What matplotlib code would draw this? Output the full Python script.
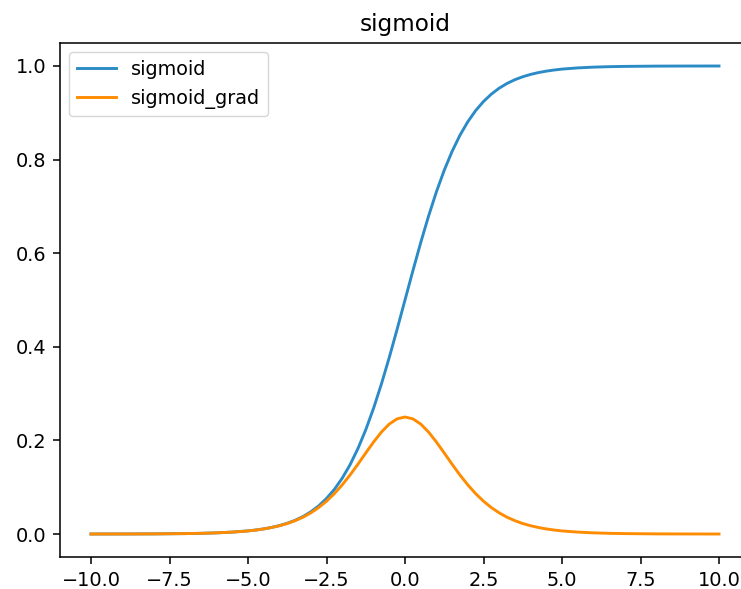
import numpy as np
import matplotlib
matplotlib.use("Agg")
import matplotlib.pyplot as plt

# values (right half mirrors the left)
x_left = [-10, -9.5, -9, -8.5, -8, -7.5, -7, -6.5, -6, -5.5,
          -5, -4.75, -4.5, -4.25, -4, -3.75, -3.5, -3.25, -3, -2.75,
          -2.5, -2.25, -2, -1.75, -1.5, -1.25, -1, -0.75, -0.5, -0.25]
sig_left = [0.00005, 0.00007, 0.00012, 0.0002, 0.0003, 0.0006, 0.0009, 0.0015, 0.0025, 0.0041,
            0.0067, 0.0086, 0.0110, 0.0141, 0.0180, 0.0230, 0.0293, 0.0373, 0.0474, 0.0601,
            0.0759, 0.0953, 0.1192, 0.1480, 0.1824, 0.2227, 0.2689, 0.3208, 0.3775, 0.4378]
grad_left = [0.00005, 0.00007, 0.00012, 0.0002, 0.0003, 0.0006, 0.0009, 0.0015, 0.0025, 0.0041,
             0.0066, 0.0085, 0.0109, 0.0139, 0.0177, 0.0224, 0.0285, 0.0359, 0.0452, 0.0565,
             0.0701, 0.0863, 0.1050, 0.1261, 0.1491, 0.1731, 0.1966, 0.2179, 0.2350, 0.2461]
sig_mid = 0.5
grad_mid = 0.25

x = np.array(x_left + [0] + [-v for v in x_left[::-1]])
sig = np.array(sig_left + [sig_mid] + [1 - v for v in sig_left[::-1]])
grad = np.array(grad_left + [grad_mid] + grad_left[::-1])

s = 1.39
plt.rcParams.update({
    "font.size": 10 * s,
    "lines.linewidth": 1.5 * s,
    "axes.linewidth": 0.8 * s,
    "xtick.major.size": 3.5 * s,
    "ytick.major.size": 3.5 * s,
    "xtick.major.width": 0.8 * s,
    "ytick.major.width": 0.8 * s,
    "xtick.major.pad": 3.5 * s,
    "ytick.major.pad": 3.5 * s,
    "axes.titlepad": 6 * s,
})

W, H = 741, 589
fig = plt.figure(figsize=(W / 100, H / 100), dpi=100)
ax = fig.add_axes([59.6 / W, 31.6 / H, 690.8 / W, 514.8 / H])
ax.plot(x, sig, color="#2b8bc6", label="sigmoid")
ax.plot(x, grad, color="#ff8c00", label="sigmoid_grad")
ax.set_title("sigmoid", fontsize=12 * s)
ax.legend(loc="upper left")
fig.savefig("out.png", dpi=100)
